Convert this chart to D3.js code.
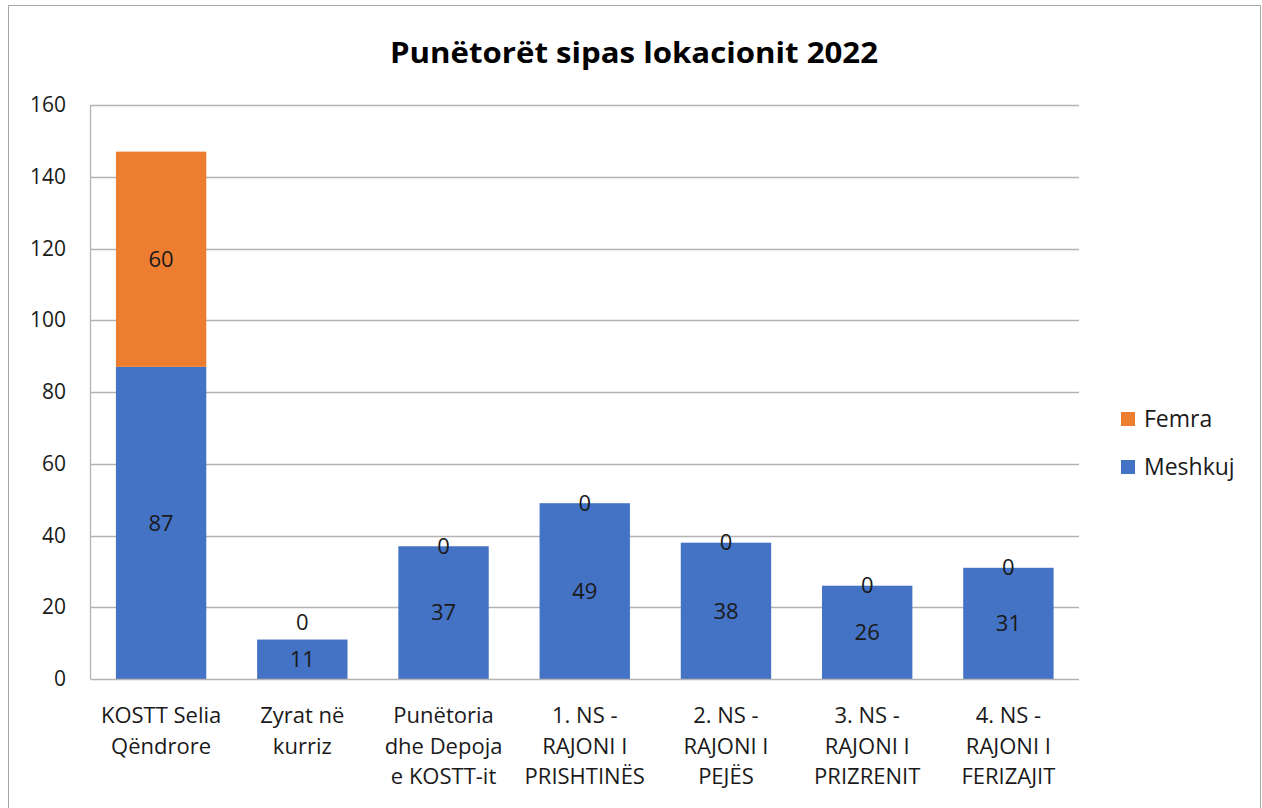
<!DOCTYPE html>
<html>
<head>
<meta charset="utf-8">
<script src="https://cdn.jsdelivr.net/npm/d3@7"></script>
<style>
  html, body { margin: 0; padding: 0; background: #fff; }
  svg { display: block; font-family: "Open Sans", "Noto Sans", sans-serif; }
</style>
</head>
<body>
<svg id="chart" width="1262" height="808"></svg>
<script>
// Workers by location, 2022
const categories = [
  ["KOSTT Selia", "Qëndrore"],
  ["Zyrat në", "kurriz"],
  ["Punëtoria", "dhe Depoja", "e KOSTT-it"],
  ["1. NS -", "RAJONI I", "PRISHTINËS"],
  ["2. NS -", "RAJONI I", "PEJËS"],
  ["3. NS -", "RAJONI I", "PRIZRENIT"],
  ["4. NS -", "RAJONI I", "FERIZAJIT"]
];
const meshkuj = [87, 11, 37, 49, 38, 26, 31];
const femra = [60, 0, 0, 0, 0, 0, 0];
const yTicks = [0, 20, 40, 60, 80, 100, 120, 140, 160];
const seriesNames = ["Meshkuj", "Femra"];
const seriesColors = ["#4472C4", "#ED7D31"];
const title = "Punëtorët sipas lokacionit 2022";

const svg = d3.select("#chart");
const W = 1262, H = 808;
const plot = { left: 90.5, right: 1079, top: 105, bottom: 679 };

// outer chart frame
svg.append("rect")
  .attr("x", 8.5).attr("y", 5.5)
  .attr("width", W - 10).attr("height", H + 10)
  .attr("fill", "#fff").attr("stroke", "#a6a6a6").attr("stroke-width", 1);

svg.append("text")
  .attr("x", 634).attr("y", 63)
  .attr("text-anchor", "middle")
  .attr("font-size", 29).attr("font-weight", 700)
  .attr("textLength", 488).attr("lengthAdjust", "spacingAndGlyphs")
  .attr("fill", "#000")
  .text(title);

const x = d3.scaleBand()
  .domain(d3.range(categories.length))
  .range([plot.left, plot.right])
  .paddingInner(0.36).paddingOuter(0.18);

const y = d3.scaleLinear().domain([0, 160]).range([plot.bottom, plot.top]);

// gridlines
svg.append("g").selectAll("line").data(yTicks.filter(d => d > 0)).join("line")
  .attr("x1", plot.left).attr("x2", plot.right)
  .attr("y1", d => Math.round(y(d)) + 0.5).attr("y2", d => Math.round(y(d)) + 0.5)
  .attr("stroke", "#b3b3b3").attr("stroke-width", 1.3);

// y axis labels
const yAxis = d3.axisLeft(y).tickValues(yTicks).tickSize(0).tickPadding(0);
const gy = svg.append("g").attr("transform", `translate(66,0)`).call(yAxis);
gy.select(".domain").remove();
gy.selectAll("text")
  .attr("font-family", "\"Open Sans\", sans-serif")
  .attr("font-size", 21).attr("fill", "#1a1a1a");

// stacked bars
const stackData = categories.map((c, i) => ({ i, Meshkuj: meshkuj[i], Femra: femra[i] }));
const stacked = d3.stack().keys(seriesNames)(stackData);

stacked.forEach((layer, si) => {
  svg.append("g").selectAll("rect").data(layer).join("rect")
    .attr("x", d => x(d.data.i))
    .attr("width", x.bandwidth())
    .attr("y", d => y(d[1]))
    .attr("height", d => y(d[0]) - y(d[1]))
    .attr("fill", seriesColors[si]);
});

// axis lines
svg.append("line")
  .attr("x1", plot.left).attr("x2", plot.left)
  .attr("y1", plot.top).attr("y2", plot.bottom)
  .attr("stroke", "#b3b3b3").attr("stroke-width", 1.3);
svg.append("line")
  .attr("x1", plot.left).attr("x2", plot.right)
  .attr("y1", plot.bottom + 0.5).attr("y2", plot.bottom + 0.5)
  .attr("stroke", "#b3b3b3").attr("stroke-width", 1.3);

// data labels
const labelG = svg.append("g")
  .attr("font-size", 22).attr("fill", "#1a1a1a").attr("text-anchor", "middle");
stackData.forEach(d => {
  const cx = x(d.i) + x.bandwidth() / 2;
  const midM = y(d.Meshkuj / 2);
  labelG.append("text").attr("x", cx).attr("y", midM).attr("dy", "0.35em").text(d.Meshkuj);
  const midF = y(d.Meshkuj + d.Femra / 2);
  const fy = d.Femra > 0 ? midF : Math.min(midF, midM - 37);
  labelG.append("text").attr("x", cx).attr("y", fy).attr("dy", "0.35em").text(d.Femra);
});

// category labels
const catG = svg.append("g")
  .attr("font-size", 22).attr("fill", "#1a1a1a").attr("text-anchor", "middle");
categories.forEach((lines, i) => {
  const t = catG.append("text").attr("x", x(i) + x.bandwidth() / 2).attr("y", 723);
  lines.forEach((ln, k) => {
    t.append("tspan").attr("x", x(i) + x.bandwidth() / 2).attr("dy", k === 0 ? 0 : 30.5).text(ln);
  });
});

// legend
const legendItems = [
  { name: "Femra", color: seriesColors[1], cy: 419 },
  { name: "Meshkuj", color: seriesColors[0], cy: 467 }
];
const lg = svg.append("g");
legendItems.forEach(it => {
  lg.append("rect").attr("x", 1121).attr("y", it.cy - 7).attr("width", 14).attr("height", 14).attr("fill", it.color);
  lg.append("text").attr("x", 1144).attr("y", it.cy).attr("dy", "0.35em")
    .attr("font-size", 23).attr("fill", "#1a1a1a").text(it.name);
});
</script>
</body>
</html>
